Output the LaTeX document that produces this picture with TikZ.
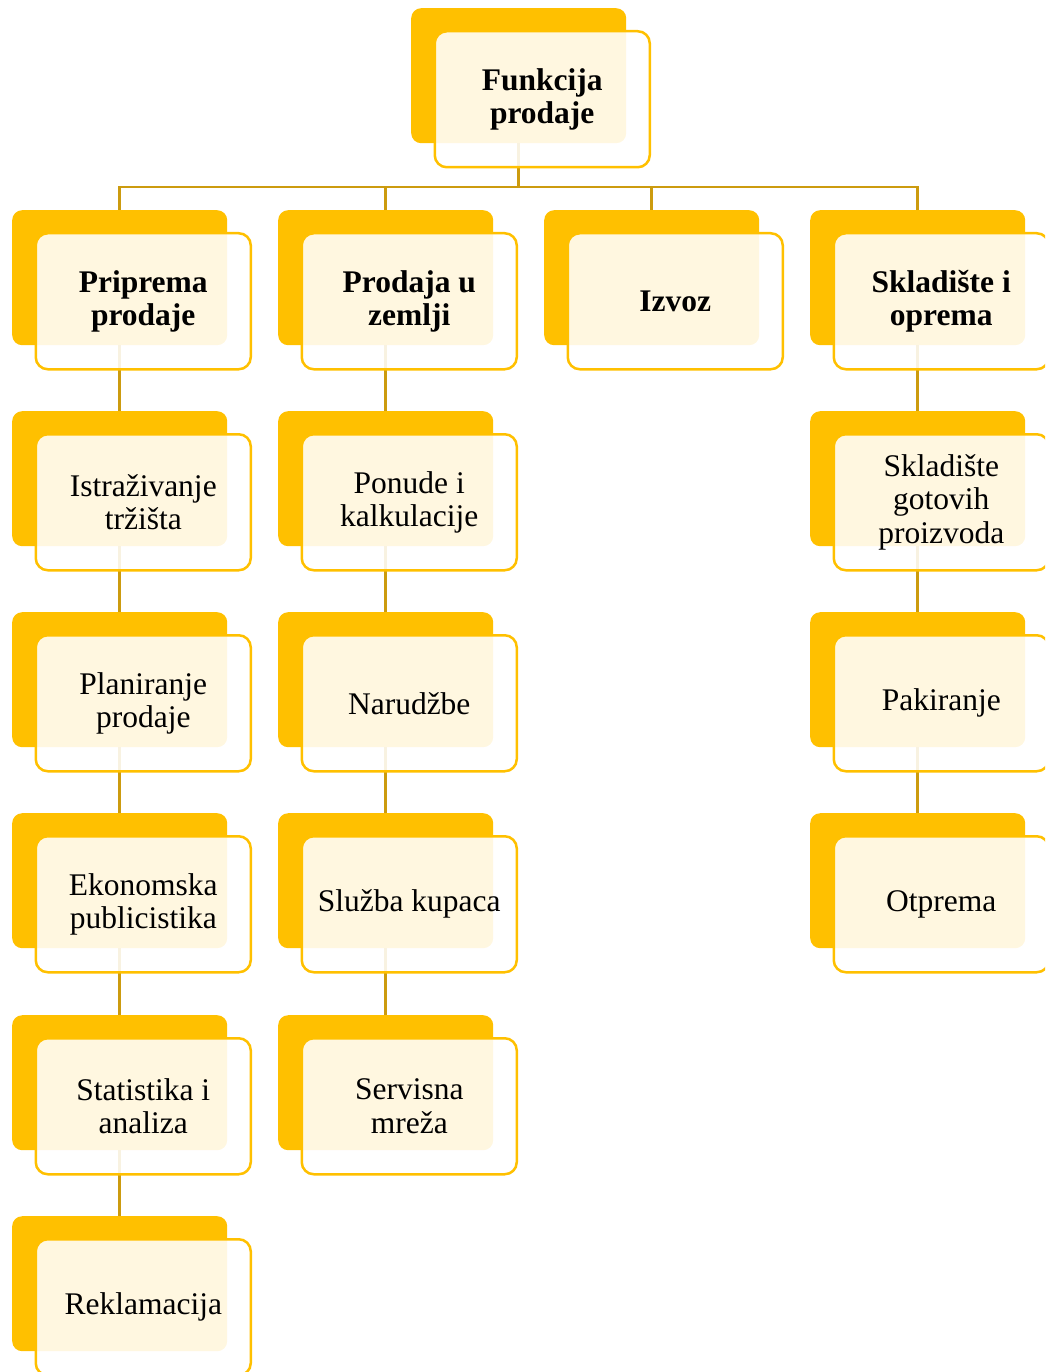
\documentclass[tikz,border=0pt]{standalone}
\usepackage{fontspec}
\setmainfont{Liberation Serif}
\definecolor{gold}{RGB}{255,192,0}
\definecolor{linegold}{RGB}{204,155,15}
\tikzset{
  backbox/.style={anchor=north west, fill=gold, rounded corners=10pt,
    minimum width=215pt, minimum height=135pt, inner sep=0pt},
  frontbox/.style={anchor=north west, draw=gold, line width=2.5pt, fill=white,
    fill opacity=0.88, text opacity=1, rounded corners=12pt,
    minimum width=215pt, minimum height=136pt, align=center, inner sep=2pt,
    font=\fontsize{31.5}{33.5}\selectfont},
  boldtext/.style={font=\fontsize{31.5}{33.5}\selectfont\bfseries},
  conn/.style={draw=linegold, line width=2.5pt}
}
\newcommand\backpair[3]{\node[backbox] (#1b) at (#2,#3) {};}
\newcommand\frontpair[3]{\node[frontbox,#2] (#1) at ([xshift=22.5pt,yshift=-22pt]#1b.north west) {#3};}
\begin{document}
\begin{tikzpicture}[x=1pt,y=-1pt]
\useasboundingbox (0,0) rectangle (1045,1372);
\clip (0,0) rectangle (1045,1372);
% back boxes
\backpair{fp}{411}{8}
\backpair{pp}{12}{210}
\backpair{ist}{12}{411}
\backpair{plan}{12}{612}
\backpair{eko}{12}{813}
\backpair{stat}{12}{1015}
\backpair{rekl}{12}{1216}
\backpair{pu}{278}{210}
\backpair{pon}{278}{411}
\backpair{nar}{278}{612}
\backpair{sluz}{278}{813}
\backpair{serv}{278}{1015}
\backpair{izv}{544}{210}
\backpair{sk}{810}{210}
\backpair{skg}{810}{411}
\backpair{pak}{810}{612}
\backpair{otp}{810}{813}
% connectors
\foreach \c in {pp,pu,izv,sk}{\draw[conn] (\c b.north) -- ++(0,-23) -| (fpb.south);}
\draw[conn] (ppb.south) -- (istb.north);
\draw[conn] (istb.south) -- (planb.north);
\draw[conn] (planb.south) -- (ekob.north);
\draw[conn] (ekob.south) -- (statb.north);
\draw[conn] (statb.south) -- (reklb.north);
\draw[conn] (pub.south) -- (ponb.north);
\draw[conn] (ponb.south) -- (narb.north);
\draw[conn] (narb.south) -- (sluzb.north);
\draw[conn] (sluzb.south) -- (servb.north);
\draw[conn] (skb.south) -- (skgb.north);
\draw[conn] (skgb.south) -- (pakb.north);
\draw[conn] (pakb.south) -- (otpb.north);
% front boxes
\frontpair{fp}{boldtext}{Funkcija\\prodaje}
\frontpair{pp}{boldtext}{Priprema\\prodaje}
\frontpair{pu}{boldtext}{Prodaja u\\zemlji}
\frontpair{izv}{boldtext}{Izvoz}
\frontpair{sk}{boldtext}{Skladište i\\oprema}
\frontpair{ist}{}{Istraživanje\\tržišta}
\frontpair{plan}{}{Planiranje\\prodaje}
\frontpair{eko}{}{Ekonomska\\publicistika}
\frontpair{stat}{}{Statistika i\\analiza}
\frontpair{rekl}{}{Reklamacija}
\frontpair{pon}{}{Ponude i\\kalkulacije}
\frontpair{nar}{}{Narudžbe}
\frontpair{sluz}{}{Služba kupaca}
\frontpair{serv}{}{Servisna\\mreža}
\frontpair{skg}{}{Skladište\\gotovih\\proizvoda}
\frontpair{pak}{}{Pakiranje}
\frontpair{otp}{}{Otprema}
\end{tikzpicture}
\end{document}
